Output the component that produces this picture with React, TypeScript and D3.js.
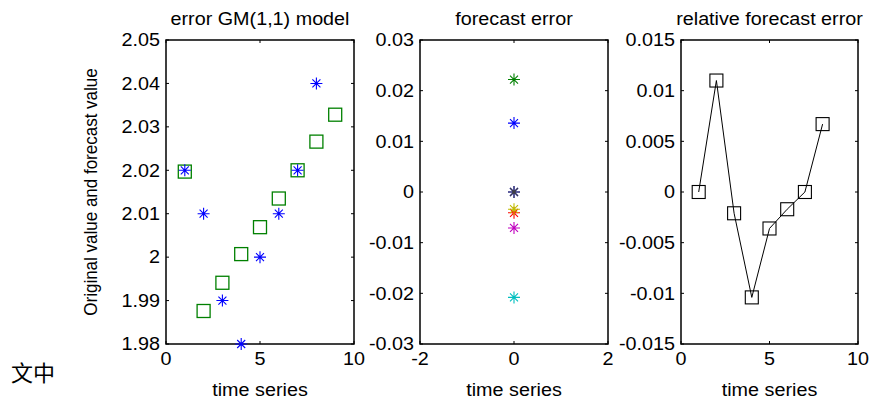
import { useEffect, useRef } from 'react';
import * as d3 from 'd3';

// original series and GM(1,1) fit
const originalSteps = [1, 2, 3, 4, 5, 6, 7, 8];
const originalValues = [2.02, 2.01, 1.99, 1.98, 2.0, 2.01, 2.02, 2.04];
const forecastSteps = [1, 2, 3, 4, 5, 6, 7, 8, 9];
const forecastValues = [2.0197, 1.9876, 1.9941, 2.0007, 2.0069, 2.0135, 2.02, 2.0266, 2.0328];

// residuals, one series per point (all plotted at x = 0)
const forecastErrors = [0, 0.0222, -0.0041, -0.0208, -0.0071, -0.0034, 0, 0.0136];
const errorColors = ['#0000ff', '#008000', '#ff0000', '#00bfbf', '#bf00bf', '#bfbf00', '#404040', '#0000ff'];

const relativeSteps = [1, 2, 3, 4, 5, 6, 7, 8];
const relativeErrors = [0, 0.011, -0.0021, -0.0104, -0.0036, -0.0017, 0, 0.0067];

const xTicksA = [0, 5, 10];
const yTicksA = [1.98, 1.99, 2.0, 2.01, 2.02, 2.03, 2.04, 2.05];
const xTicksB = [-2, 0, 2];
const yTicksB = [-0.03, -0.02, -0.01, 0, 0.01, 0.02, 0.03];
const xTicksC = [0, 5, 10];
const yTicksC = [-0.015, -0.01, -0.005, 0, 0.005, 0.01, 0.015];

const titles = ['error GM(1,1) model', 'forecast error', 'relative forecast error'];

const W = 869;
const H = 399;
const TOP = 40;
const BOTTOM = 344;
const SX = 1.13;
const FONT = 'Arial, "Liberation Sans", sans-serif';
const FS = 17.5;

const fmt = (v: number) => String(+v.toFixed(4));

const starPath = 'M-6,0H6M0,-6V6M-4,-4L4,4M-4,4L4,-4';

export default function App() {
  const svgRef = useRef<SVGSVGElement>(null);

  useEffect(() => {
    if (!svgRef.current) return;
    const svg = d3.select(svgRef.current);
    svg.selectAll('*').remove();

    const label = (x: number, y: number, str: string, anchor: string, rotate = 0, size = FS) =>
      svg.append('text')
        .attr('transform', `translate(${x},${y}) scale(${SX},1)${rotate ? ` rotate(${rotate})` : ''}`)
        .attr('text-anchor', anchor)
        .attr('font-family', FONT)
        .attr('font-size', size)
        .attr('fill', '#000')
        .text(str);

    const panel = (x0: number, x1: number, xDom: number[], yDom: number[], xt: number[], yt: number[], title: string, xlab: string | null) => {
      const x = d3.scaleLinear().domain(xDom).range([x0, x1]);
      const y = d3.scaleLinear().domain(yDom).range([BOTTOM, TOP]);
      const g = svg.append('g');
      g.append('rect')
        .attr('x', x0).attr('y', TOP)
        .attr('width', x1 - x0).attr('height', BOTTOM - TOP)
        .attr('fill', '#fff').attr('stroke', '#000').attr('stroke-width', 1.5);
      xt.forEach(t => {
        g.append('path').attr('d', `M${x(t)},${BOTTOM}v-3M${x(t)},${TOP}v3`).attr('stroke', '#000');
        label(x(t), BOTTOM + 21, fmt(t), 'middle');
      });
      yt.forEach(t => {
        g.append('path').attr('d', `M${x0},${y(t)}h3M${x1},${y(t)}h-3`).attr('stroke', '#000');
        label(x0 - 6, y(t) + 6.3, fmt(t), 'end');
      });
      label((x0 + x1) / 2, 25, title, 'middle');
      if (xlab) label((x0 + x1) / 2, 396, xlab, 'middle');
      return { x, y, g };
    };

    // panel 1: original vs forecast
    const p1 = panel(166, 354, [0, 10], [1.98, 2.05], xTicksA, yTicksA, titles[0], 'time series');
    p1.g.selectAll('.sq')
      .data(forecastSteps.map((s, i) => [s, forecastValues[i]]))
      .enter().append('rect')
      .attr('x', d => p1.x(d[0]) - 6.5).attr('y', d => p1.y(d[1]) - 6.5)
      .attr('width', 13).attr('height', 13)
      .attr('fill', 'none').attr('stroke', '#008000').attr('stroke-width', 1.3);
    p1.g.selectAll('.st')
      .data(originalSteps.map((s, i) => [s, originalValues[i]]))
      .enter().append('path')
      .attr('transform', d => `translate(${p1.x(d[0])},${p1.y(d[1])})`)
      .attr('d', starPath)
      .attr('fill', 'none').attr('stroke', '#0000ff').attr('stroke-width', 1.1);

    // panel 2: forecast error
    const p2 = panel(420, 608, [-2, 2], [-0.03, 0.03], xTicksB, yTicksB, titles[1], 'time series');
    p2.g.selectAll('.st')
      .data(forecastErrors)
      .enter().append('path')
      .attr('transform', d => `translate(${p2.x(0)},${p2.y(d)})`)
      .attr('d', starPath)
      .attr('fill', 'none')
      .attr('stroke', (_, i) => errorColors[i])
      .attr('stroke-width', 1.1);

    // panel 3: relative error
    const p3 = panel(681, 858, [0, 10], [-0.015, 0.015], xTicksC, yTicksC, titles[2], 'time series');
    const rel = relativeSteps.map((s, i) => [s, relativeErrors[i]] as [number, number]);
    const line = d3.line<[number, number]>().x(d => p3.x(d[0])).y(d => p3.y(d[1]));
    p3.g.append('path')
      .datum(rel)
      .attr('d', line)
      .attr('fill', 'none').attr('stroke', '#000').attr('stroke-width', 1);
    p3.g.selectAll('.sq')
      .data(rel)
      .enter().append('rect')
      .attr('x', d => p3.x(d[0]) - 6.5).attr('y', d => p3.y(d[1]) - 6.5)
      .attr('width', 13).attr('height', 13)
      .attr('fill', 'none').attr('stroke', '#000').attr('stroke-width', 1.1);

    label(97, (TOP + BOTTOM) / 2, 'Original value and forecast value', 'middle', -90, 17);

    svg.append('text')
      .attr('x', 11).attr('y', 381)
      .attr('font-family', '"Noto Sans CJK SC", sans-serif')
      .attr('font-size', 22)
      .attr('fill', '#000')
      .text('文中');
  }, []);

  return (
    <svg
      ref={svgRef}
      width={W}
      height={H}
      style={{ display: 'block', position: 'absolute', left: 0, top: 0, background: '#fff' }}
    />
  );
}
